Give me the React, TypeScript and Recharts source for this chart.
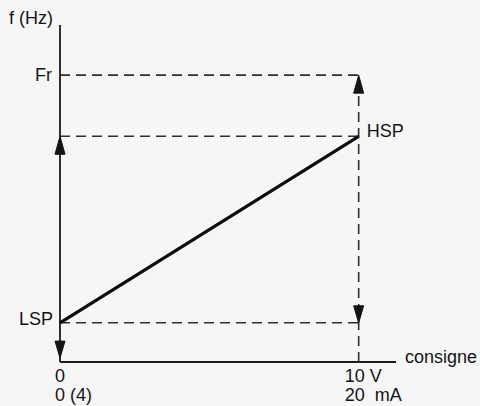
import React from "react";
import {
  ComposedChart,
  Line,
  Scatter,
  XAxis,
  YAxis,
  ReferenceLine,
} from "recharts";

// levels on the f (Hz) axis
const levelNames = ["LSP", "HSP", "Fr"];
const levelValues = [5, 28.8, 36.6];
const yTop = 43;

// input (consigne) range
const inputMin = 0;
const inputMax = 10;
const xEnd = 11.25;
const inputLabelsV = ["0", "10 V"];
const inputLabelsMA = ["0 (4)", "20  mA"];

const LSP = levelValues[0];
const HSP = levelValues[1];
const FR = levelValues[2];

const rampData = [
  { x: inputMin, y: LSP },
  { x: inputMax, y: HSP },
];
const arrowsUp = [
  { x: inputMin, y: HSP },
  { x: inputMax, y: FR },
];
const arrowsDown = [
  { x: inputMin, y: 0.5 },
  { x: inputMax, y: LSP },
];

const FONT = "'Liberation Sans', Arial, sans-serif";
const INK = "#141414";

const txt = (
  text: string,
  getPos: (vb: any) => { x: number; y: number },
  anchor: "start" | "end" | "middle"
) => (props: any) => {
  const p = getPos(props.viewBox);
  return (
    <text
      x={p.x}
      y={p.y}
      textAnchor={anchor}
      fontFamily={FONT}
      fontSize={18}
      fill={INK}
      style={{ whiteSpace: "pre" }}
    >
      {text}
    </text>
  );
};

const ArrowUp = (props: any) => {
  const { cx, cy } = props;
  return (
    <path
      d={`M${cx},${cy} L${cx - 5},${cy + 18} L${cx + 5},${cy + 18} Z`}
      fill={INK}
      stroke={INK}
      strokeWidth={1}
    />
  );
};

const ArrowDown = (props: any) => {
  const { cx, cy } = props;
  return (
    <path
      d={`M${cx},${cy} L${cx - 5},${cy - 17} L${cx + 5},${cy - 17} Z`}
      fill={INK}
      stroke={INK}
      strokeWidth={1}
    />
  );
};

const dash = "10 6";

const App: React.FC = () => {
  return (
    <div
      style={{
        position: "fixed",
        left: 0,
        top: 0,
        width: 480,
        height: 406,
        background: "#f6f6f6",
      }}
    >
      <ComposedChart
        width={480}
        height={406}
        margin={{ top: 25, right: 84, left: 60, bottom: 44 }}
      >
        <XAxis hide type="number" dataKey="x" domain={[inputMin, xEnd]} />
        <YAxis hide type="number" dataKey="y" domain={[0, yTop]} />

        {/* dashed guide lines */}
        <ReferenceLine
          segment={[
            { x: inputMin, y: FR },
            { x: inputMax, y: FR },
          ]}
          stroke="#2e2e2e"
          strokeWidth={1.6}
          strokeDasharray={dash}
          label={{
            content: txt(levelNames[2], (vb) => ({ x: vb.x - 8, y: vb.y + 6 }), "end"),
          }}
        />
        <ReferenceLine
          segment={[
            { x: inputMin, y: HSP },
            { x: inputMax, y: HSP },
          ]}
          stroke="#2e2e2e"
          strokeWidth={1.6}
          strokeDasharray={dash}
          label={{
            content: txt(
              levelNames[1],
              (vb) => ({ x: vb.x + vb.width + 8, y: vb.y + 1 }),
              "start"
            ),
          }}
        />
        <ReferenceLine
          segment={[
            { x: inputMin, y: LSP },
            { x: inputMax, y: LSP },
          ]}
          stroke="#2e2e2e"
          strokeWidth={1.6}
          strokeDasharray={dash}
          label={{
            content: txt(levelNames[0], (vb) => ({ x: vb.x - 7, y: vb.y + 2 }), "end"),
          }}
        />
        <ReferenceLine
          segment={[
            { x: inputMax, y: 0 },
            { x: inputMax, y: FR },
          ]}
          stroke="#2e2e2e"
          strokeWidth={1.6}
          strokeDasharray={dash}
        />

        {/* axes */}
        <ReferenceLine
          segment={[
            { x: inputMin, y: 0 },
            { x: inputMin, y: yTop },
          ]}
          stroke="#1a1a1a"
          strokeWidth={1.8}
          label={{
            content: txt("f (Hz)", (vb) => ({ x: vb.x - 7, y: vb.y - 1 }), "end"),
          }}
        />
        <ReferenceLine
          segment={[
            { x: inputMin, y: 0 },
            { x: xEnd, y: 0 },
          ]}
          stroke="#1a1a1a"
          strokeWidth={1.8}
          label={{
            content: txt(
              "consigne",
              (vb) => ({ x: vb.x + vb.width + 9, y: vb.y + 1 }),
              "start"
            ),
          }}
        />

        {/* tick texts under the input axis */}
        <ReferenceLine
          segment={[
            { x: inputMin, y: 0 },
            { x: inputMin, y: 0.01 },
          ]}
          stroke="none"
          label={{
            content: (p: any) => (
              <g>
                {txt(inputLabelsV[0], (vb) => ({ x: vb.x - 5, y: vb.y + vb.height + 20 }), "start")(p)}
                {txt(inputLabelsMA[0], (vb) => ({ x: vb.x - 5, y: vb.y + vb.height + 39 }), "start")(p)}
              </g>
            ),
          }}
        />
        <ReferenceLine
          segment={[
            { x: inputMax, y: 0 },
            { x: inputMax, y: 0.01 },
          ]}
          stroke="none"
          label={{
            content: (p: any) => (
              <g>
                {txt(inputLabelsV[1], (vb) => ({ x: vb.x - 14, y: vb.y + vb.height + 20 }), "start")(p)}
                {txt(inputLabelsMA[1], (vb) => ({ x: vb.x - 14, y: vb.y + vb.height + 39 }), "start")(p)}
              </g>
            ),
          }}
        />

        <Line
          data={rampData}
          dataKey="y"
          type="linear"
          stroke="#0d0d0d"
          strokeWidth={3.2}
          dot={false}
          isAnimationActive={false}
        />
        <Scatter
          data={arrowsUp}
          dataKey="y"
          shape={ArrowUp}
          isAnimationActive={false}
        />
        <Scatter
          data={arrowsDown}
          dataKey="y"
          shape={ArrowDown}
          isAnimationActive={false}
        />
      </ComposedChart>
    </div>
  );
};

export default App;
